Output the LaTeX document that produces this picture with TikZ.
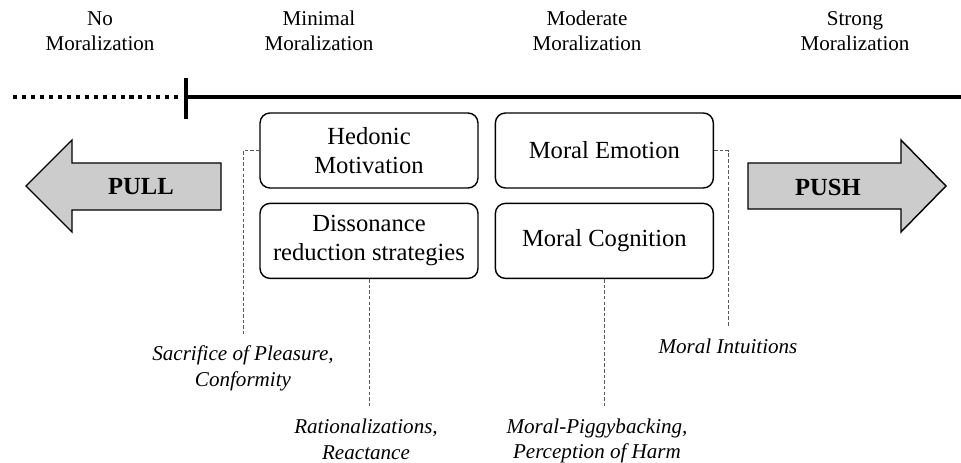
\documentclass[tikz,border=0pt]{standalone}
\usepackage{fontspec}
\setmainfont{Liberation Serif}
\usetikzlibrary{positioning}

\begin{document}
\begin{tikzpicture}[x=0.02cm, y=-0.02cm,
  box/.style  = {draw, rounded corners=0.2cm, line width=0.8pt, minimum width=4.36cm, minimum height=1.5cm, align=center, font=\fontsize{14}{16.5}\selectfont},
  head/.style = {align=center, font=\fontsize{12}{14.5}\selectfont},
  lab/.style  = {align=center, font=\fontsize{12}{14.5}\selectfont\itshape},
  lead/.style = {draw=black!65, line width=0.5pt, dash pattern=on 2pt off 1.2pt, shorten >=3pt},
  big/.style  = {draw, fill=black!20, line width=0.8pt},
]

\useasboundingbox (0,0) rectangle (961,463);

% levels of moralization along the top
\node [head] (no)  at (100,31) {No\\Moralization};
\node [head] (min) at (319,31) {Minimal\\Moralization};
\node [head] (mod) at (587,31) {Moderate\\Moralization};
\node [head] (str) at (855,31) {Strong\\Moralization};

\coordinate (lft)  at (13,97);
\coordinate (gap)  at (178,97);
\coordinate (tick) at (186,97);
\coordinate (rgt)  at (961,97);

\draw [line width=1.9pt, dash pattern=on 2.3pt off 2.8pt] (lft) -- (gap);
\draw [line width=2.2pt] (tick) -- (rgt);
\draw [line width=2.2pt] ([yshift=0.38cm]tick) -- ([yshift=-0.44cm]tick);

\node [box                       ] (hm) at (369,150.5) {Hedonic\\Motivation};
\node [box, right=0.32cm of hm   ] (me)                {Moral Emotion};
\node [box, below=0.28cm of hm   ] (dr)                {Dissonance\\reduction strategies};
\node [box, below=0.28cm of me   ] (mc)                {Moral Cognition};

% pull and push arrows
\draw [big] (26,186) -- (72,140) -- (72,163) -- (221,163) -- (221,210) -- (72,210) -- (72,232) -- cycle;
\draw [big] (946,186) -- (901,140) -- (901,163) -- (748,163) -- (748,209) -- (901,209) -- (901,232) -- cycle;
\node [font=\fontsize{14}{16}\selectfont\bfseries] (pull) at (141,187) {PULL};
\node [font=\fontsize{14}{16}\selectfont\bfseries] (push) at (828,187) {PUSH};

\node [lab] (sp) at (243,368.5) {Sacrifice of Pleasure,\\Conformity};
\node [lab] (ra) at (366,439.5) {Rationalizations,\\Reactance};
\node [lab] (mi) at (728,346)   {Moral Intuitions};
\node [lab] (mp) at (597,441)   {Moral-Piggybacking,\\Perception of Harm};

\draw [lead] (hm.west)  -| (sp.north);
\draw [lead] (dr.south) -- (dr.south |- ra.north);
\draw [lead] (me.east)  -| (mi.north);
\draw [lead] (mc.south) -- (mc.south |- mp.north);

\end{tikzpicture}
\end{document}
